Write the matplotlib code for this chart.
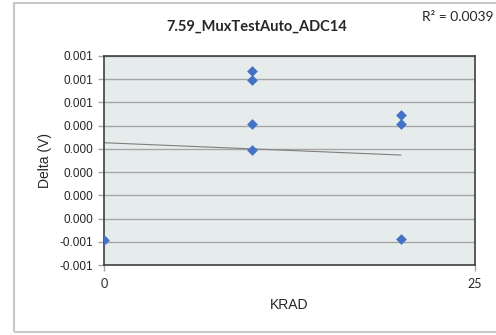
import matplotlib
matplotlib.use("Agg")
import matplotlib.pyplot as plt
from matplotlib.patches import Rectangle
from matplotlib.ticker import FixedLocator, FuncFormatter

# data
krad = [0, 10, 10, 10, 10, 20, 20, 20]
delta = [-0.000585, 0.000871, 0.000793, 0.000414, 0.000188, 0.000492, 0.000414, -0.000574]
trend_slope = -5.3e-6      # Excel linear trendline
trend_icpt = 0.000253
trend_x = [0, 20]
r2_text = "R² = 0.0039"
title = "7.59_MuxTestAuto_ADC14"
y_ticks = [-0.0008, -0.0006, -0.0004, -0.0002, 0.0, 0.0002, 0.0004, 0.0006, 0.0008, 0.0010]
x_ticks = [0, 25]

plt.rcParams['font.family'] = ['Liberation Sans', 'DejaVu Sans']

fig = plt.figure(figsize=(4.96, 3.35), dpi=100)
fig.patch.set_facecolor('white')

# outer chart border
fig.patches.append(Rectangle((14 / 496, 3 / 335), 490 / 496, 329 / 335, transform=fig.transFigure,
                             fill=False, edgecolor='#c8c8c8', linewidth=1.5))

ax = fig.add_axes([104 / 496, 1 - 265 / 335, 371 / 496, 209 / 335])
ax.set_facecolor('#e6ebeb')

ax.scatter(krad, delta, marker='D', s=30, color='#4472c4', zorder=3, linewidths=0)
ty = [trend_slope * x + trend_icpt for x in trend_x]
ax.plot(trend_x, ty, color='#7f7f7f', linewidth=0.8, zorder=2)

ax.set_xlim(0, 25)
ax.set_ylim(-0.0008, 0.0010)
ax.xaxis.set_major_locator(FixedLocator(x_ticks))
ax.yaxis.set_major_locator(FixedLocator(y_ticks))
ax.yaxis.set_major_formatter(FuncFormatter(lambda v, p: "%.3f" % v if round(v, 3) != 0 else "0.000"))
ax.grid(axis='y', color='#a6a6a6', linewidth=1.0)
ax.set_axisbelow(True)

for s in ax.spines.values():
    s.set_color('#404040')
    s.set_linewidth(1.2)

ax.tick_params(axis='both', colors='#a6a6a6', labelcolor='#262626', length=4, width=1)
ax.tick_params(axis='y', labelsize=8.5)
ax.tick_params(axis='x', labelsize=9, pad=5)
for lbl in ax.get_xticklabels():
    lbl.set_family(['Lato', 'DejaVu Sans'])

ax.set_xlabel("KRAD", fontsize=10, color='#262626', labelpad=6)
ax.set_ylabel("Delta (V)", fontsize=10, color='#262626', labelpad=6)

fig.text(257 / 496, 1 - 27 / 335, title, ha='center', va='center', fontsize=10.5, fontweight='bold',
         color='#262626', family=['Lato', 'DejaVu Sans'])
fig.text(494 / 496, 1 - 17 / 335, r2_text, ha='right', va='center', fontsize=10, color='#262626',
         family=['Lato', 'DejaVu Sans'])

fig.savefig("out.png", dpi=100)
